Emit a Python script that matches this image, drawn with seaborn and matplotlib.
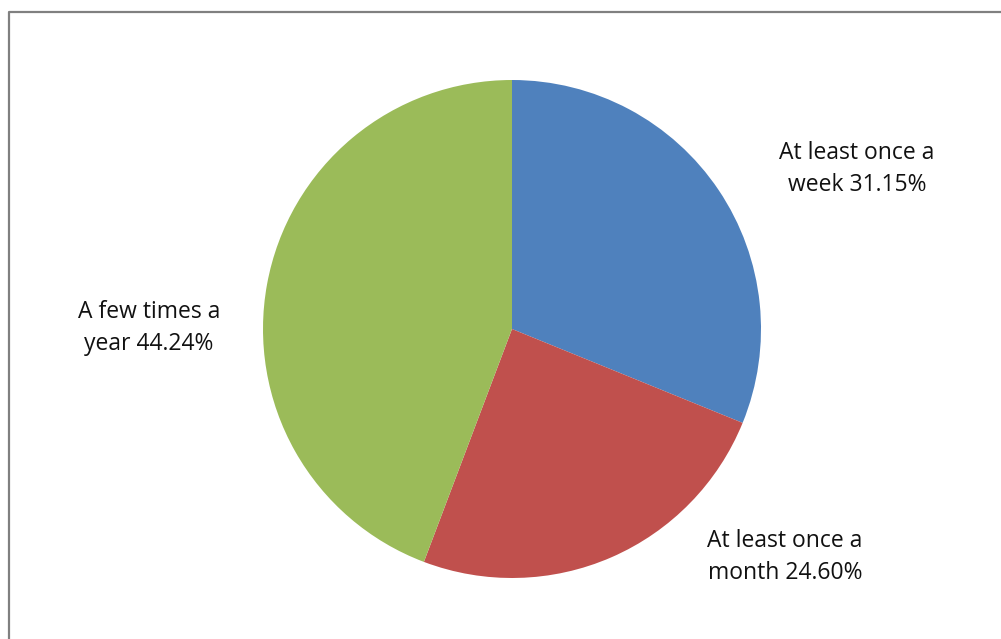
import matplotlib
matplotlib.use("Agg")
import matplotlib.pyplot as plt
import seaborn as sns

sns.set_theme(style="white")
plt.rcParams["font.family"] = ["Open Sans", "DejaVu Sans"]

# Data
categories = ["At least once a\nweek", "At least once a\nmonth", "A few times a\nyear"]
shares = [31.15, 24.60, 44.24]
colors = ["#4F81BD", "#C0504D", "#9BBB59"]

W, H = 1001, 639
fig = plt.figure(figsize=(W / 100, H / 100), dpi=100)
ax = fig.add_axes([0, 0, 1, 1])

# Pie
ax.pie(
    shares,
    colors=colors,
    startangle=90,
    counterclock=False,
    center=(512, H - 329),
    radius=249,
    wedgeprops=dict(linewidth=0),
    frame=True,
)
ax.set_xlim(0, W)
ax.set_ylim(0, H)
ax.set_aspect("equal")
ax.axis("off")

# Labels
label_pos = [(857, H - 169), (785, H - 557), (149, H - 328)]
for cat, val, (x, y) in zip(categories, shares, label_pos):
    ax.text(x, y, f"{cat} {val:.2f}%", ha="center", va="center",
            fontsize=16.5, color="#111111", linespacing=1.45)

# Chart frame
ax.plot([8.5, 8.5, W + 5], [-5, H - 11.5, H - 11.5], color="#808080",
        linewidth=1.6, solid_capstyle="butt", clip_on=False)

plt.savefig("out.png", dpi=100)
plt.close()
